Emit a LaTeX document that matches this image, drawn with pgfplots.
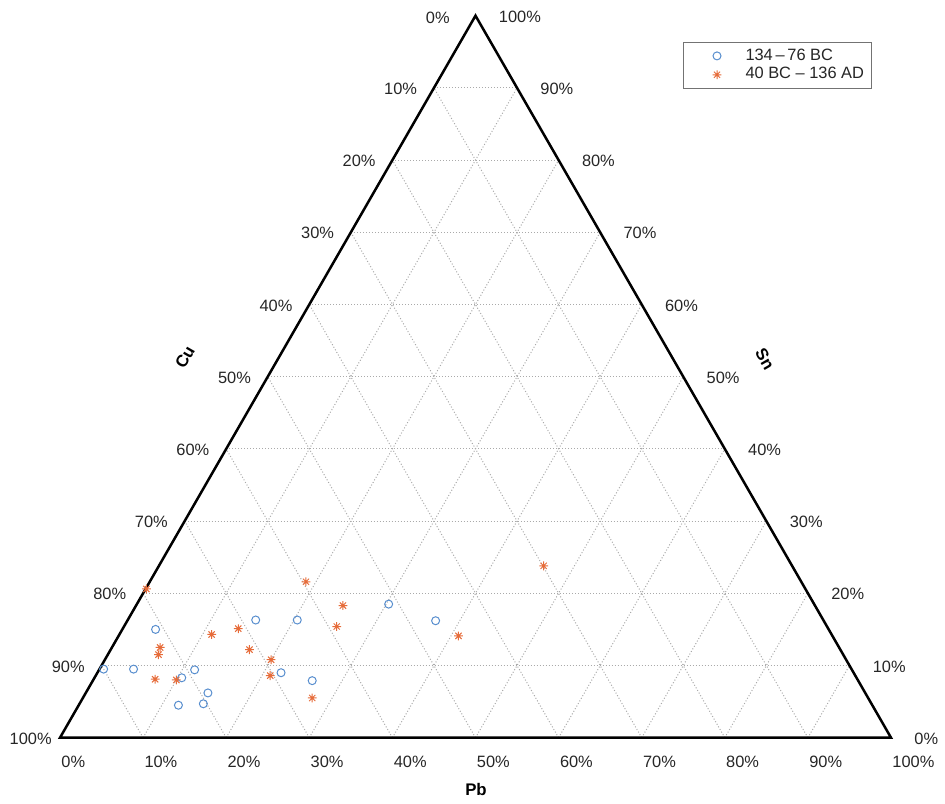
\documentclass[border=0pt]{standalone}
\usepackage{fontspec}
\setmainfont{Liberation Sans}
\usepackage{pgfplots}
\pgfplotsset{compat=1.18}
\usepackage{pgfplotstable}

\definecolor{earlyblue}{RGB}{88,142,206}
\definecolor{lateorange}{RGB}{230,108,58}
\definecolor{gridgray}{RGB}{170,170,170}
\definecolor{labelgray}{RGB}{38,38,38}

% eight-armed asterisk marker
\pgfdeclareplotmark{ast8}{%
  \pgfpathmoveto{\pgfqpoint{-\pgfplotmarksize}{0pt}}%
  \pgfpathlineto{\pgfqpoint{\pgfplotmarksize}{0pt}}%
  \pgfpathmoveto{\pgfqpoint{0pt}{-\pgfplotmarksize}}%
  \pgfpathlineto{\pgfqpoint{0pt}{\pgfplotmarksize}}%
  \pgfpathmoveto{\pgfqpoint{-.7071\pgfplotmarksize}{-.7071\pgfplotmarksize}}%
  \pgfpathlineto{\pgfqpoint{.7071\pgfplotmarksize}{.7071\pgfplotmarksize}}%
  \pgfpathmoveto{\pgfqpoint{-.7071\pgfplotmarksize}{.7071\pgfplotmarksize}}%
  \pgfpathlineto{\pgfqpoint{.7071\pgfplotmarksize}{-.7071\pgfplotmarksize}}%
  \pgfusepathqstroke}

% legend symbol: a single mark, offset to the right
\pgfplotsset{markleg/.style={legend image code/.code={%
  \path (0pt,0pt) (27pt,0pt);
  \draw[##1] plot coordinates {(15.5pt,0pt)};}}}

% compositions in percent (Cu + Pb + Sn = 100)
\pgfplotstableread{
Cu   Pb   Sn
90.0 0.5  9.5
86.4 4.1  9.5
81.0 4.0  15.0
81.2 10.5 8.3
79.1 11.5 9.4
83.5 12.0 4.5
79.1 14.7 6.2
80.4 14.9 4.7
68.3 15.4 16.3
63.3 20.4 16.3
68.9 22.1 9.0
65.7 26.4 7.9
51.2 30.3 18.5
46.7 37.1 16.2
}\earlydata

\pgfplotstableread{
Cu   Pb   Sn
79.3 0.1  20.6
81.7 5.8  12.5
82.4 6.1  11.5
84.5 7.4  8.1
82.0 10.0 8.0
74.6 11.1 14.3
71.0 13.9 15.1
71.1 16.7 12.2
69.2 20.0 10.8
70.4 21.0 8.6
59.6 18.8 21.6
56.8 24.9 18.3
59.0 25.6 15.4
66.9 27.6 5.5
45.0 40.9 14.1
29.9 46.3 23.8
}\latedata

\begin{document}
\begin{tikzpicture}[font=\fontsize{8.2}{9.8}\selectfont]
% ---- frame measured in pixels, y pointing down ----
\begin{scope}[x=0.5pt,y=-0.5pt,shift={(-30pt,368.85pt)}]
  \path[use as bounding box] (0,0) rectangle (945,803);
\end{scope}

% ---- ternary grid (X = Pb + Sn/2, Y = Sn) ----
\begin{scope}[x=4.155pt,y=3.61pt]
  \foreach \s in {10,20,...,90}{
    \draw[gridgray,line width=0.5pt,dash pattern=on 0.5pt off 1pt]
      ({\s/2},\s) -- ({100-\s/2},\s);
    \draw[gridgray,line width=0.5pt,dash pattern=on 0.5pt off 1pt]
      (\s,0) -- ({(100+\s)/2},{100-\s});
    \draw[gridgray,line width=0.5pt,dash pattern=on 0.5pt off 1pt]
      (\s,0) -- ({\s/2},\s);
  }
  \draw[black,line width=1.25pt,line join=miter] (0,0) -- (100,0) -- (50,100) -- cycle;
\end{scope}

% ---- tick labels and side titles ----
\begin{scope}[x=0.5pt,y=-0.5pt,shift={(-30pt,368.85pt)},
              every node/.style={text=labelgray,inner sep=0pt}]
  % Cu (left side)
  \foreach \k in {1,...,9}{
    \pgfmathsetmacro\lx{60+41.55*\k-16.5}
    \pgfmathsetmacro\ly{737.7-72.2*\k+1}
    \pgfmathtruncatemacro\lab{100-10*\k}
    \node[anchor=east] at (\lx,\ly) {\lab\%};
  }
  \node[anchor=east] at (52,739) {100\%};
  \node[anchor=east] at (450,18) {0\%};
  % Sn (right side)
  \foreach \k in {0,...,10}{
    \pgfmathsetmacro\lx{914-41.55*\k}
    \pgfmathsetmacro\ly{737.7-72.2*\k+1}
    \pgfmathtruncatemacro\lab{10*\k}
    \node[anchor=west] at (\lx,\ly) {\lab\%};
  }
  % Pb (bottom)
  \foreach \k in {0,...,10}{
    \pgfmathsetmacro\lx{61+83.1*\k}
    \pgfmathtruncatemacro\lab{10*\k}
    \node[anchor=west] at (\lx,761.5) {\lab\%};
  }
  \node[font=\fontsize{8.4}{10}\selectfont\bfseries,text=black,rotate=60] at (185,357) {Cu};
  \node[font=\fontsize{8.4}{10}\selectfont\bfseries,text=black,rotate=-60] at (765,359) {Sn};
  \node[font=\fontsize{8.4}{10}\selectfont\bfseries,text=black] at (476,789) {Pb};
\end{scope}

% ---- data ----
\begin{axis}[
  at={(0pt,0pt)}, anchor=south west,
  scale only axis, x=4.155pt, y=3.61pt,
  xmin=0, xmax=100, ymin=0, ymax=100,
  hide axis, clip=false,
  legend cell align=left,
  legend style={at={(0.7497,0.9636)}, anchor=north west,
    draw=black!55, line width=0.5pt, text=labelgray,
    font=\fontsize{8.2}{9.8}\selectfont,
    inner xsep=1pt, inner ysep=2pt,
    nodes={inner xsep=2.5pt, inner ysep=1.1pt}},
]
\addplot[only marks, mark=o, mark size=2pt, color=earlyblue, line width=0.5pt, markleg]
  table[x expr=\thisrow{Pb}+0.5*\thisrow{Sn}, y=Sn]{\earlydata};
\addlegendentry{134\,--\,76 BC}
\addplot[only marks, mark=ast8, mark size=2.2pt, color=lateorange, line width=0.5pt, markleg]
  table[x expr=\thisrow{Pb}+0.5*\thisrow{Sn}, y=Sn]{\latedata};
\addlegendentry{40 BC -- 136 AD}
\end{axis}
\end{tikzpicture}
\end{document}
